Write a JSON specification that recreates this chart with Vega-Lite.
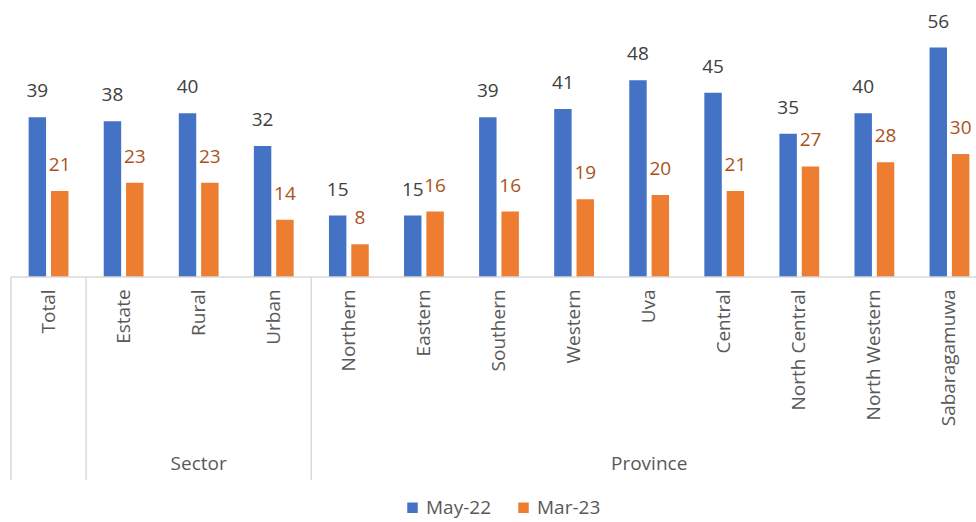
{
  "$schema": "https://vega.github.io/schema/vega-lite/v6.json",
  "width": 965,
  "height": 480,
  "autosize": {"type": "none"},
  "padding": {"left": 11, "top": 0, "right": 0, "bottom": 42},
  "background": "white",
  "config": {"view": {"stroke": null}, "font": "Open Sans"},
  "datasets": {
    "bars": [
      {"cat": "Total", "period": "May-22", "value": 39}, {"cat": "Total", "period": "Mar-23", "value": 21},
      {"cat": "Estate", "period": "May-22", "value": 38}, {"cat": "Estate", "period": "Mar-23", "value": 23},
      {"cat": "Rural", "period": "May-22", "value": 40}, {"cat": "Rural", "period": "Mar-23", "value": 23},
      {"cat": "Urban", "period": "May-22", "value": 32}, {"cat": "Urban", "period": "Mar-23", "value": 14},
      {"cat": "Northern", "period": "May-22", "value": 15}, {"cat": "Northern", "period": "Mar-23", "value": 8},
      {"cat": "Eastern", "period": "May-22", "value": 15}, {"cat": "Eastern", "period": "Mar-23", "value": 16},
      {"cat": "Southern", "period": "May-22", "value": 39}, {"cat": "Southern", "period": "Mar-23", "value": 16},
      {"cat": "Western", "period": "May-22", "value": 41}, {"cat": "Western", "period": "Mar-23", "value": 19},
      {"cat": "Uva", "period": "May-22", "value": 48}, {"cat": "Uva", "period": "Mar-23", "value": 20},
      {"cat": "Central", "period": "May-22", "value": 45}, {"cat": "Central", "period": "Mar-23", "value": 21},
      {"cat": "North Central", "period": "May-22", "value": 35}, {"cat": "North Central", "period": "Mar-23", "value": 27},
      {"cat": "North Western", "period": "May-22", "value": 40}, {"cat": "North Western", "period": "Mar-23", "value": 28},
      {"cat": "Sabaragamuwa", "period": "May-22", "value": 56}, {"cat": "Sabaragamuwa", "period": "Mar-23", "value": 30}
    ],
    "groups": [{"cat": "Rural", "label": "Sector"}, {"cat": "Uva", "label": "Province"}],
    "separators": [{"cat": "Total"}, {"cat": "Estate"}, {"cat": "Northern"}]
  },
  "layer": [
    {
      "data": {"name": "bars"},
      "mark": {"type": "bar"},
      "encoding": {
        "x": {"field": "cat", "type": "nominal", "axis": null,
          "scale": {"domain": ["Total","Estate","Rural","Urban","Northern","Eastern","Southern","Western","Uva","Central","North Central","North Western","Sabaragamuwa"], "range": [0, 976], "paddingInner": 0.47, "paddingOuter": 0.235}},
        "xOffset": {"field": "period", "type": "nominal", "scale": {"domain": ["May-22", "Mar-23"], "paddingInner": 0.22, "paddingOuter": 0}},
        "y": {"field": "value", "type": "quantitative", "axis": null, "scale": {"domain": [-49.5, 67.6], "nice": false, "zero": false}},
        "color": {"field": "period", "type": "nominal",
          "scale": {"domain": ["May-22", "Mar-23"], "range": ["#4472C4", "#ED7D31"]},
          "legend": {"title": null, "orient": "none", "legendX": 392, "legendY": 498, "direction": "horizontal", "symbolType": "square", "symbolSize": 110, "labelFontSize": 19, "labelColor": "#595959", "labelFont": "Open Sans", "columnPadding": 22, "symbolStrokeWidth": 0}}
      }
    },
    {
      "data": {"name": "bars"},
      "transform": [{"filter": "datum.period == 'May-22'"}],
      "mark": {"type": "text", "baseline": "bottom", "dy": -16, "fontSize": 19, "color": "#404040"},
      "encoding": {
        "x": {"field": "cat", "type": "nominal", "scale": {"domain": ["Total","Estate","Rural","Urban","Northern","Eastern","Southern","Western","Uva","Central","North Central","North Western","Sabaragamuwa"], "range": [0, 976], "paddingInner": 0.47, "paddingOuter": 0.235}},
        "xOffset": {"field": "period", "type": "nominal", "scale": {"domain": ["May-22", "Mar-23"], "paddingInner": 0.22, "paddingOuter": 0}},
        "y": {"field": "value", "type": "quantitative"},
        "text": {"field": "value", "type": "quantitative"}
      }
    },
    {
      "data": {"name": "bars"},
      "transform": [{"filter": "datum.period == 'Mar-23'"}],
      "mark": {"type": "text", "baseline": "bottom", "dy": -16, "fontSize": 19, "color": "#A9531C"},
      "encoding": {
        "x": {"field": "cat", "type": "nominal", "scale": {"domain": ["Total","Estate","Rural","Urban","Northern","Eastern","Southern","Western","Uva","Central","North Central","North Western","Sabaragamuwa"], "range": [0, 976], "paddingInner": 0.47, "paddingOuter": 0.235}},
        "xOffset": {"field": "period", "type": "nominal", "scale": {"domain": ["May-22", "Mar-23"], "paddingInner": 0.22, "paddingOuter": 0}},
        "y": {"field": "value", "type": "quantitative"},
        "text": {"field": "value", "type": "quantitative"}
      }
    },
    {
      "data": {"name": "bars"},
      "transform": [{"filter": "datum.period == 'May-22'"}],
      "mark": {"type": "text", "angle": 270, "align": "right", "baseline": "middle", "fontSize": 19, "color": "#595959"},
      "encoding": {
        "x": {"field": "cat", "type": "nominal", "scale": {"domain": ["Total","Estate","Rural","Urban","Northern","Eastern","Southern","Western","Uva","Central","North Central","North Western","Sabaragamuwa"], "range": [0, 976], "paddingInner": 0.47, "paddingOuter": 0.235}},
        "y": {"datum": -3, "type": "quantitative"},
        "text": {"field": "cat", "type": "nominal"}
      }
    },
    {
      "data": {"name": "groups"},
      "mark": {"type": "text", "align": "center", "baseline": "middle", "fontSize": 19, "color": "#595959"},
      "encoding": {
        "x": {"field": "cat", "type": "nominal", "scale": {"domain": ["Total","Estate","Rural","Urban","Northern","Eastern","Southern","Western","Uva","Central","North Central","North Western","Sabaragamuwa"], "range": [0, 976], "paddingInner": 0.47, "paddingOuter": 0.235}},
        "y": {"datum": -45.5, "type": "quantitative"},
        "text": {"field": "label", "type": "nominal"}
      }
    },
    {
      "data": {"name": "separators"},
      "mark": {"type": "rule", "color": "#D9D9D9", "strokeWidth": 1.5},
      "encoding": {
        "x": {"field": "cat", "type": "nominal", "bandPosition": -0.443, "scale": {"domain": ["Total","Estate","Rural","Urban","Northern","Eastern","Southern","Western","Uva","Central","North Central","North Western","Sabaragamuwa"], "range": [0, 976], "paddingInner": 0.47, "paddingOuter": 0.235}},
        "y": {"datum": 0, "type": "quantitative"},
        "y2": {"datum": -49.5}
      }
    },
    {
      "data": {"values": [{}]},
      "mark": {"type": "rule", "color": "#D9D9D9", "strokeWidth": 1.5},
      "encoding": {"y": {"datum": 0, "type": "quantitative"}}
    }
  ]
}
